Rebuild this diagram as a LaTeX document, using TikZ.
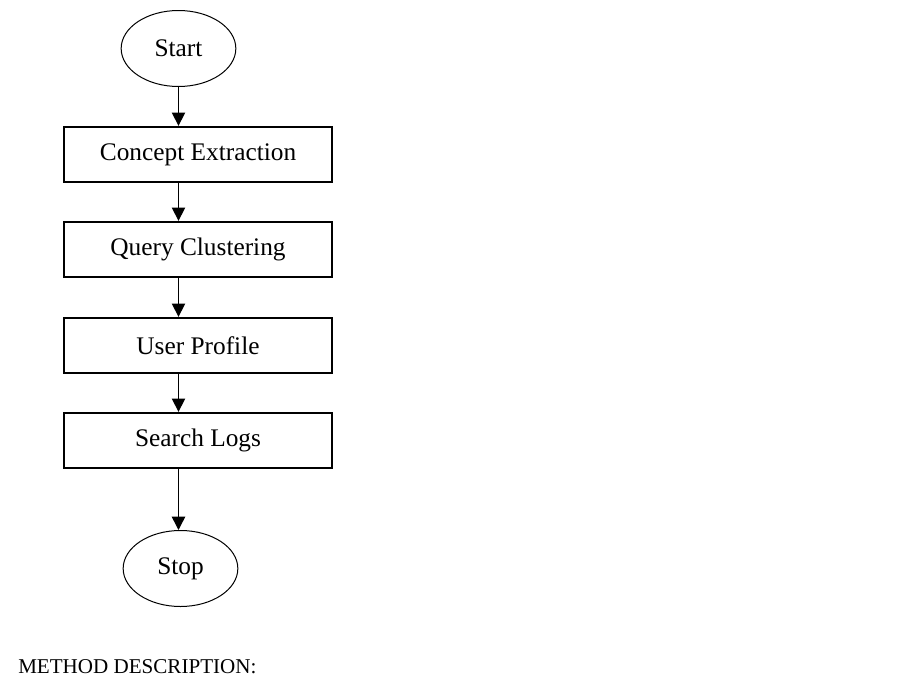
\documentclass[tikz,border=0pt]{standalone}
\usepackage{fontspec}
\setmainfont{Liberation Serif}
\usepackage{tikz}
\usetikzlibrary{positioning,arrows.meta,shapes.geometric}

\begin{document}
\begin{tikzpicture}[x=0.75pt, y=-0.75pt,
  every node/.style={font=\fontsize{19}{22}\selectfont},
  box/.style={draw, line width=1.5pt, minimum width=201pt, minimum height=41.5pt, inner sep=0pt, align=center},
  term/.style={draw, ellipse, line width=0.75pt, minimum width=86pt, minimum height=57pt, inner sep=0pt},
  arrow/.style={draw, line width=1.1pt, -{Triangle[length=10pt, width=10pt]}},
  caption/.style={font=\fontsize{15.8}{18}\selectfont, anchor=base west, inner sep=0pt}]
  \useasboundingbox (0,0) rectangle (897,693);

  \node[term] (start) at (178.5,48.5) {Start};
  \node[box] (concept) at (198,154.5) {Concept Extraction};
  \node[box] (query) at (198,249.5) {Query Clustering};
  \node[box] (profile) at (198,345.5) {User Profile};
  \node[box] (logs) at (198,440.5) {Search Logs};
  \node[term] (stop) at (180.5,568.5) {Stop};

  \coordinate (axis) at (178.5,0);
  \draw[arrow] (start) -- (start |- concept.north);
  \draw[arrow] (concept.south -| axis) -- (query.north -| axis);
  \draw[arrow] (query.south -| axis) -- (profile.north -| axis);
  \draw[arrow] (profile.south -| axis) -- (logs.north -| axis);
  \draw[arrow] (logs.south -| axis) -- (stop.north -| axis);

  \node[caption] (method) at (18,673) {METHOD DESCRIPTION:};
\end{tikzpicture}
\end{document}
